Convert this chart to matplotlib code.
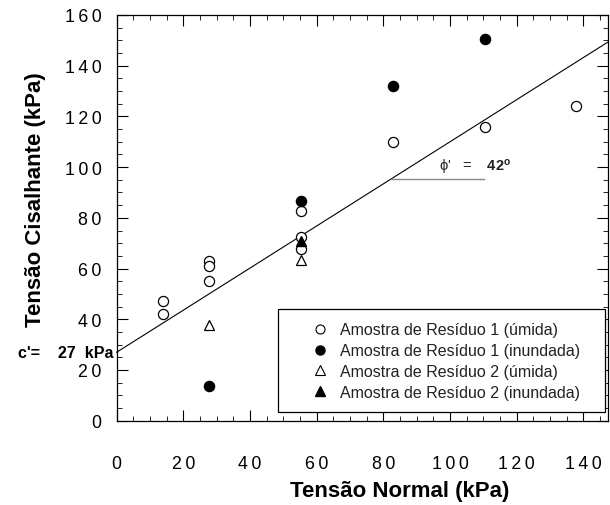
import matplotlib
matplotlib.use("Agg")
import matplotlib.pyplot as plt
from matplotlib.lines import Line2D
from matplotlib.patches import Rectangle
import matplotlib.transforms as mtransforms

plt.rcParams['font.family'] = ['Liberation Sans', 'DejaVu Sans']
plt.rcParams['mathtext.fontset'] = 'custom'
plt.rcParams['mathtext.rm'] = 'Liberation Sans'
plt.rcParams['mathtext.bf'] = 'Liberation Sans:bold'

# ---- data ----
r1_umida_x = [13.8, 13.8, 27.6, 27.6, 27.6, 55.2, 55.2, 55.2, 82.8, 110.4, 137.9]
r1_umida_y = [47.1, 42.2, 63.1, 61.1, 55.0, 82.8, 72.3, 67.7, 109.8, 115.9, 124.2]
r1_inund_x = [27.6, 55.2, 82.8, 110.4]
r1_inund_y = [13.5, 86.5, 132.1, 150.5]
r2_umida_x = [27.6, 55.2]
r2_umida_y = [37.7, 63.4]
r2_inund_x = [55.2]
r2_inund_y = [71.0]

c_prime = 27.0
slope = 0.83
phi_deg = 42

labels = ["Amostra de Resíduo 1 (úmida)",
          "Amostra de Resíduo 1 (inundada)",
          "Amostra de Resíduo 2 (úmida)",
          "Amostra de Resíduo 2 (inundada)"]
x_ticks = [0, 20, 40, 60, 80, 100, 120, 140]
y_ticks = [0, 20, 40, 60, 80, 100, 120, 140, 160]
xmax = 147.4
ymax = 160


def spaced(v):
    return "\u2009".join(str(v))


fig = plt.figure(figsize=(6.1, 5.06), dpi=100)
ax = fig.add_axes([0.1913, 0.1666, 0.8054, 0.8018])

# fit line
ax.plot([0, xmax], [c_prime, c_prime + slope * xmax], color='black', lw=0.8,
        zorder=2, clip_on=False)
# phi annotation helper line
y_ann = 95.3
x_ann0 = (y_ann - c_prime) / slope
ax.plot([x_ann0, x_ann0 + 28], [y_ann, y_ann], color='#888888', lw=1.0, zorder=2)
ax.text(96.8, 100.4, "ϕ'   =    $\\mathbf{%d^{o}}$" % phi_deg, fontsize=10.5,
        ha='left', va='center', color='#222222')

ms = 7.3
ax.plot(r1_umida_x, r1_umida_y, 'o', ms=ms, mfc='white', mec='black', mew=0.9, ls='none', zorder=3)
ax.plot(r2_umida_x, r2_umida_y, '^', ms=ms, mfc='white', mec='black', mew=0.9, ls='none', zorder=3)
ax.plot(r1_inund_x, r1_inund_y, 'o', ms=ms, mfc='black', mec='black', ls='none', zorder=4)
ax.plot(r2_inund_x, r2_inund_y, '^', ms=ms - 0.5, mfc='black', mec='black', ls='none', zorder=4)

ax.set_xlim(0, xmax)
ax.set_ylim(0, ymax)
ax.set_xticks(x_ticks)
ax.set_xticklabels([spaced(v) for v in x_ticks])
ax.set_yticks(y_ticks)
ax.set_yticklabels([spaced(v) for v in y_ticks])
ax.set_xticks(range(0, 150, 5), minor=True)
ax.set_yticks(range(0, 161, 5), minor=True)
ax.tick_params(which='both', direction='in', top=True, right=True, color='black')
ax.tick_params(which='major', length=8, width=0.8)
ax.tick_params(which='minor', length=3.5, width=0.6)
ax.tick_params(axis='x', which='major', pad=25, labelsize=12.8)
ax.tick_params(axis='y', which='major', pad=11, labelsize=12.8)
for sp in ax.spines.values():
    sp.set_linewidth(0.9)

fig.text(400 / 610, 1 - 492 / 506, "Tensão Normal (kPa)", fontsize=16,
         fontweight='bold', ha='center', va='center')
fig.text(36 / 610, 1 - 200 / 506, "Tensão Cisalhante (kPa)", fontsize=16,
         fontweight='bold', rotation=90, ha='center', va='center')

trans = mtransforms.blended_transform_factory(fig.transFigure, ax.transData)
ax.text(113 / 610, c_prime, "c'=    27  kPa", transform=trans, fontsize=11.5,
        fontweight='bold', ha='right', va='center', clip_on=False)

# legend frame
ax.add_patch(Rectangle((0.329, 0.0207), 0.665, 0.2546, transform=ax.transAxes,
                       facecolor='white', edgecolor='black', lw=0.9, zorder=5))

handles = [
    Line2D([], [], marker='o', ls='none', ms=6.5, mfc='white', mec='black', mew=0.8),
    Line2D([], [], marker='o', ls='none', ms=6.5, mfc='black', mec='black'),
    Line2D([], [], marker='^', ls='none', ms=6.5, mfc='white', mec='black', mew=0.8),
    Line2D([], [], marker='^', ls='none', ms=6.5, mfc='black', mec='black'),
]
leg = ax.legend(handles, labels, loc='upper left',
                bbox_to_anchor=((312 - 116.7) / 491.3, (421.7 - 323.5) / 405.7),
                fontsize=11.5, frameon=False, borderpad=0,
                labelspacing=0.36, handletextpad=0.75, handlelength=1.0,
                borderaxespad=0)
for t in leg.get_texts():
    t.set_color('#222222')
leg.set_zorder(6)

fig.savefig("out.png", dpi=100)
